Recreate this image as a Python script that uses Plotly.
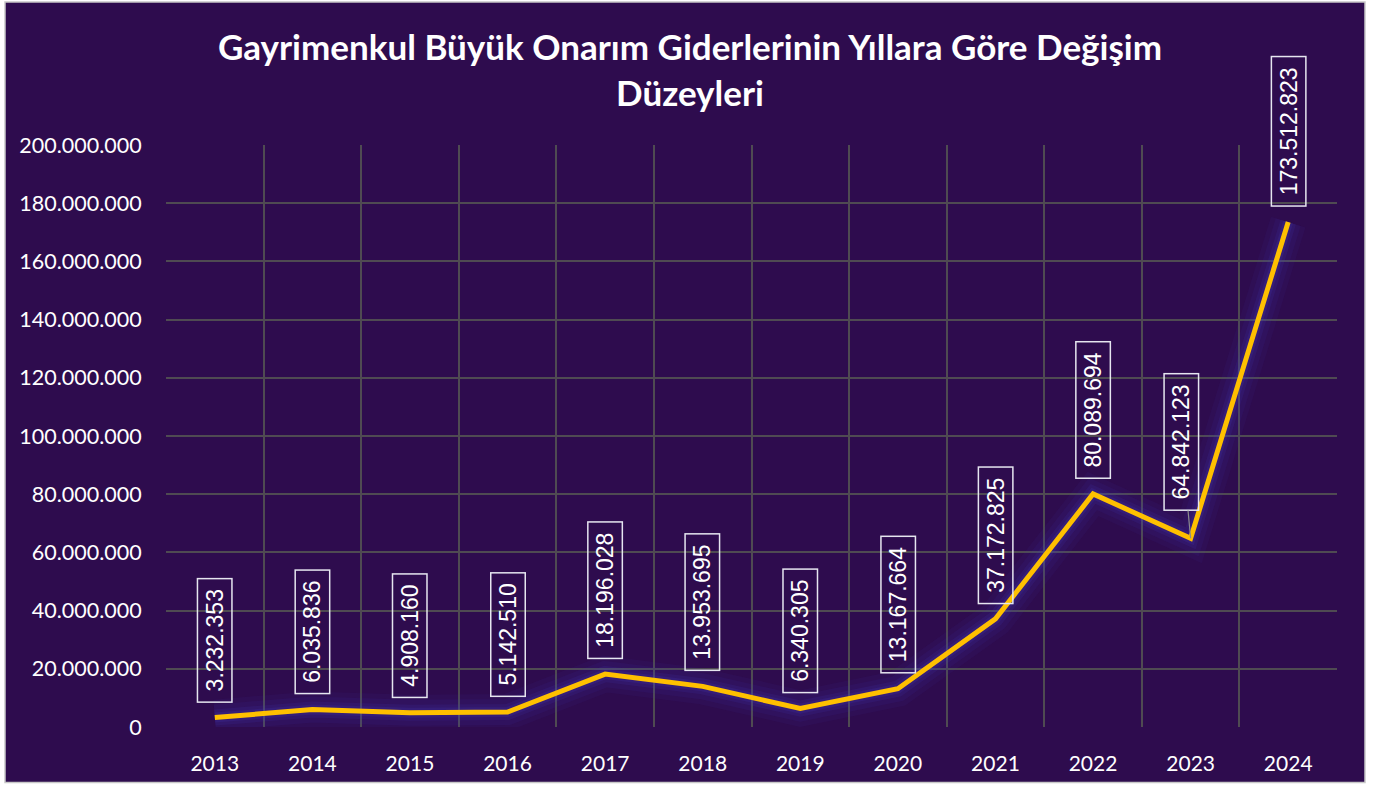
import plotly.graph_objects as go

# Yearly major repair expenses (TL)
years = ["2013", "2014", "2015", "2016", "2017", "2018",
         "2019", "2020", "2021", "2022", "2023", "2024"]
expenses = [3232353, 6035836, 4908160, 5142510, 18196028, 13953695,
            6340305, 13167664, 37172825, 80089694, 64842123, 173512823]
y_ticks = list(range(0, 200000001, 20000000))

BG = "#2E0C4E"
GRID = "#4F4B52"
LINE = "#FFC000"
W, H = 1393, 787
ML, MR, MT, MB = 166, 56, 145, 56
PW, PH = W - ML - MR, H - MT - MB

xs = list(range(len(years)))

def tr(v):
    return f"{v:,}".replace(",", ".")

fig = go.Figure()

# soft halo under the line
for w, a in [(36, 0.07), (26, 0.09), (16, 0.13), (10, 0.17)]:
    fig.add_trace(go.Scatter(
        x=xs, y=expenses, mode="lines",
        line=dict(color=f"rgba(70,60,190,{a})", width=w),
        hoverinfo="skip", showlegend=False))

fig.add_trace(go.Scatter(
    x=xs, y=expenses, mode="lines",
    line=dict(color=LINE, width=5),
    showlegend=False,
    hovertemplate="%{text}<extra></extra>",
    text=[tr(v) for v in expenses]))

# value labels
fs = 23
for i, v in enumerate(expenses):
    label = tr(v)
    txt_w = sum(0.556 * fs if c.isdigit() else 0.278 * fs for c in label)
    ann = dict(
        x=i, y=v, text=label, textangle=-90,
        font=dict(family="Liberation Sans, Arial, sans-serif", size=fs, color="white"),
        bordercolor="#E6E6F0", borderwidth=1.5, borderpad=3,
        width=txt_w + 14, height=27, align="center",
    )
    if years[i] == "2023":
        ann.update(showarrow=True, arrowhead=0, arrowwidth=1.2,
                   arrowcolor="#8C8C8C", ax=-9, ay=-96, standoff=0)
    else:
        ann.update(showarrow=False, yanchor="bottom", yshift=15)
    fig.add_annotation(**ann)

# chart backdrop
fig.add_shape(type="rect", xref="paper", yref="paper",
              x0=(5 - ML) / PW, x1=(1365 - ML) / PW,
              y0=-MB / PH, y1=(H - MB - 1) / PH,
              fillcolor=BG, line=dict(color="#C8C8C8", width=1.5),
              layer="below")

fig.update_layout(
    width=W, height=H,
    margin=dict(l=ML, r=MR, t=MT, b=MB),
    paper_bgcolor="white",
    plot_bgcolor=BG,
    separators=",.",
    title=dict(
        text="Gayrimenkul Büyük Onarım Giderlerinin Yıllara Göre Değişim<br>Düzeyleri",
        x=690 / W, xanchor="center", y=1 - 60 / H, yanchor="middle",
        font=dict(family="Lato, sans-serif", size=35, color="white", weight="bold"),
    ),
    xaxis=dict(
        range=[-0.5, len(years) - 0.5],
        tickmode="array", tickvals=xs, ticktext=years,
        showgrid=False, zeroline=False, showline=False,
        ticks="outside", ticklen=18, tickcolor="rgba(0,0,0,0)",
        tickfont=dict(family="Lato, sans-serif", size=21, color="white"),
        minor=dict(tickmode="array",
                   tickvals=[i - 0.5 for i in range(len(years) + 1)],
                   showgrid=True, gridcolor=GRID, gridwidth=2, ticks=""),
        fixedrange=True,
    ),
    yaxis=dict(
        range=[0, 200000000],
        tickmode="array", tickvals=y_ticks, tickformat=",d",
        showgrid=True, gridcolor=GRID, gridwidth=2,
        zeroline=False, showline=False,
        ticks="outside", ticklen=19, tickcolor="rgba(0,0,0,0)",
        tickfont=dict(family="Lato, sans-serif", size=21.5, color="white"),
        fixedrange=True,
    ),
)

fig.write_html("out.html")
